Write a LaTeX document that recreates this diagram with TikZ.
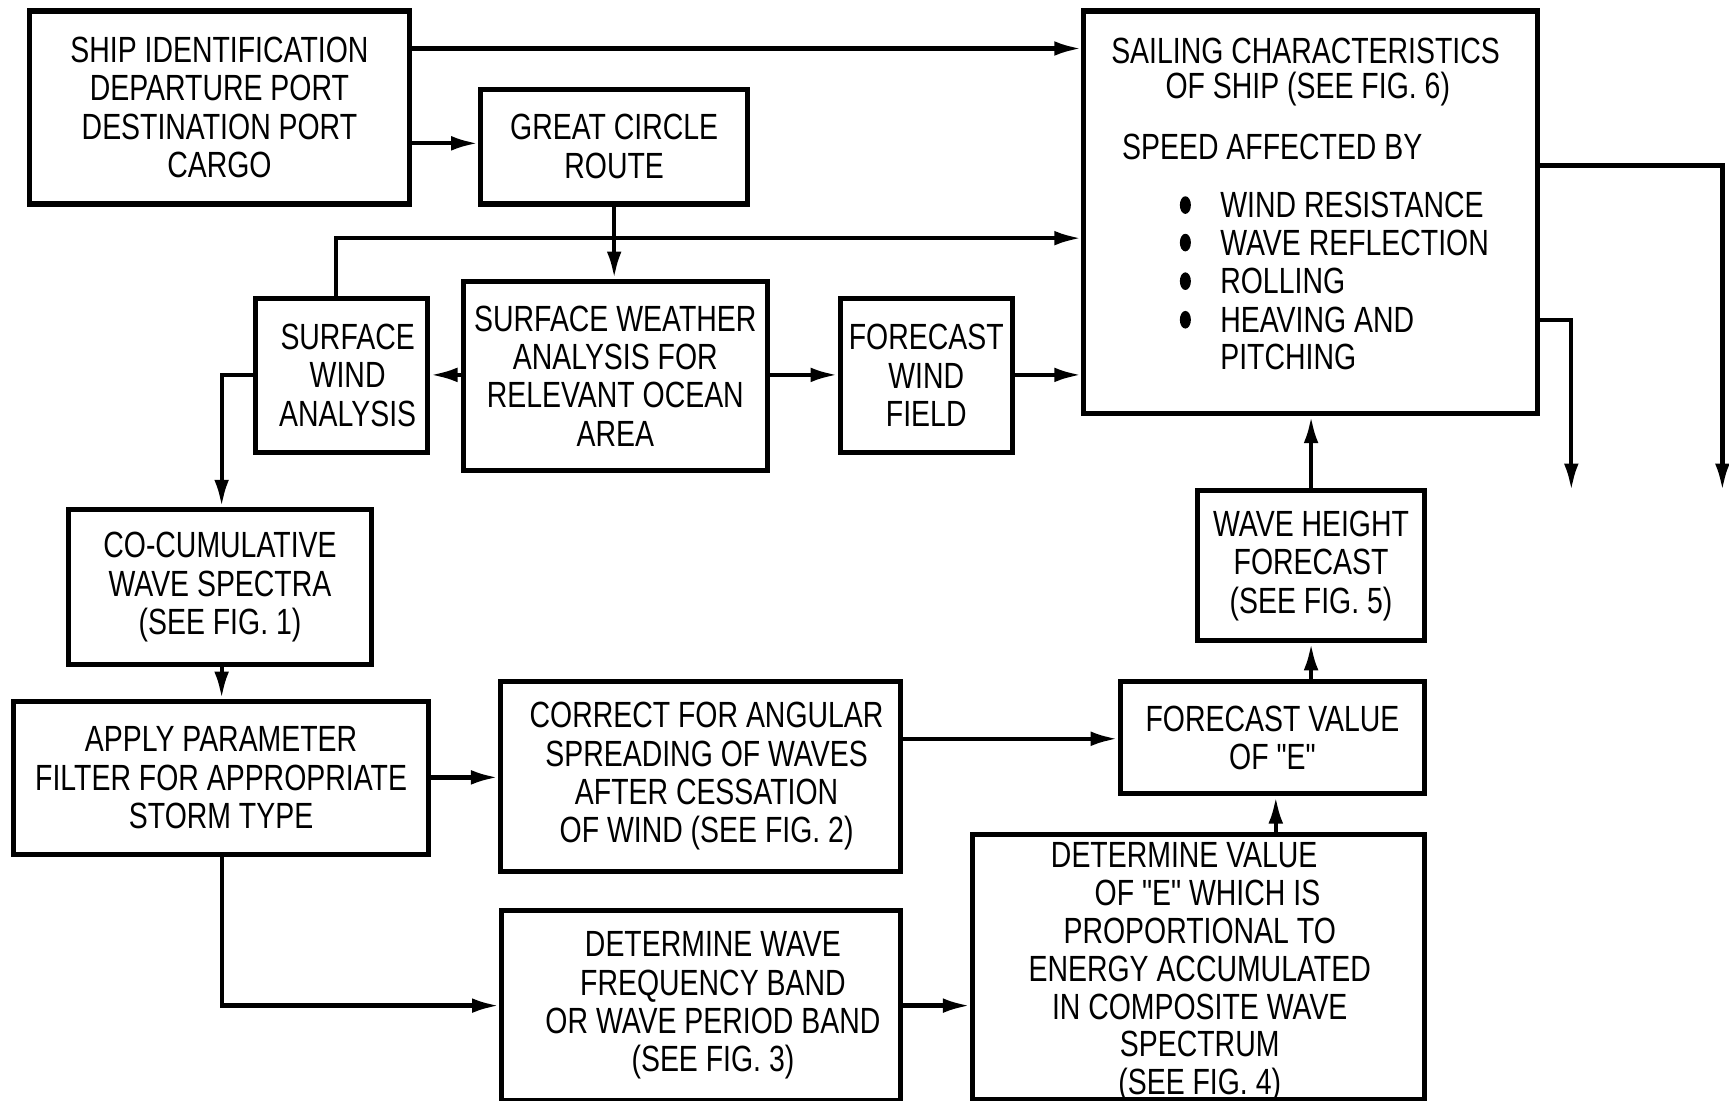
\documentclass[tikz,border=0pt]{standalone}
\usepackage{fontspec}
\setmainfont{Liberation Sans}[FakeStretch=0.78,Ligatures=TeXOff]
\usetikzlibrary{arrows.meta,calc}
\begin{document}
\begin{tikzpicture}[x=0.01cm,y=-0.01cm,
  box/.style={draw,line width=1.3pt,align=center,inner sep=0pt,font=\fontsize{9.4}{9.9}\selectfont},
  lbl/.style={inner sep=0pt,align=center,font=\fontsize{9.4}{9.9}\selectfont},
  conn/.style={line width=1.1pt},
  arr/.style={conn,-{Latex[length=7pt,width=3.8pt]}}]
\useasboundingbox[fill=white] (0,0) rectangle (1568,998);
% boxes
\node[box,minimum width=344*0.01cm,minimum height=175*0.01cm] (ship) at (199,97.5)
  {SHIP IDENTIFICATION\\DEPARTURE PORT\\DESTINATION PORT\\CARGO};
\node[box,minimum width=242*0.01cm,minimum height=104*0.01cm] (gcr) at (557,133)
  {GREAT CIRCLE\\ROUTE};
\node[box,minimum width=411*0.01cm,minimum height=365*0.01cm] (sail) at (1188.5,192.5) {};
\node[box,minimum width=156*0.01cm,minimum height=139*0.01cm] (swa) at (310,340.5)
  {\hspace*{3pt}SURFACE\\\hspace*{3pt}WIND\\\hspace*{3pt}ANALYSIS};
\node[box,minimum width=276*0.01cm,minimum height=172*0.01cm] (swe) at (558,341)
  {SURFACE WEATHER\\ANALYSIS FOR\\RELEVANT OCEAN\\AREA};
\node[box,minimum width=156*0.01cm,minimum height=139*0.01cm] (fwf) at (840,340.5)
  {FORECAST\\WIND\\FIELD};
\node[box,minimum width=275*0.01cm,minimum height=141*0.01cm] (cocum) at (199.5,532.5)
  {CO-CUMULATIVE\\WAVE SPECTRA\\(SEE FIG. 1)};
\node[box,minimum width=377*0.01cm,minimum height=139*0.01cm] (apply) at (200.5,705.5)
  {APPLY PARAMETER\\FILTER FOR APPROPRIATE\\STORM TYPE};
\node[box,minimum width=363*0.01cm,minimum height=172*0.01cm] (correct) at (635.5,704)
  {\hspace*{3pt}CORRECT FOR ANGULAR\\\hspace*{3pt}SPREADING OF WAVES\\\hspace*{3pt}AFTER CESSATION\\\hspace*{3pt}OF WIND (SEE FIG. 2)};
\node[box,minimum width=362*0.01cm,minimum height=172*0.01cm] (detwave) at (636,912)
  {\hspace*{6pt}DETERMINE WAVE\\\hspace*{6pt}FREQUENCY BAND\\\hspace*{6pt}OR WAVE PERIOD BAND\\\hspace*{6pt}(SEE FIG. 3)};
\node[box,minimum width=206*0.01cm,minimum height=136*0.01cm] (wh) at (1189,513)
  {WAVE HEIGHT\\FORECAST\\(SEE FIG. 5)};
\node[box,minimum width=276*0.01cm,minimum height=102*0.01cm] (fv) at (1154,669)
  {FORECAST VALUE\\OF "E"};
\node[box,minimum width=410*0.01cm,minimum height=240*0.01cm] (detval) at (1087,877) {};
\node[lbl,font=\fontsize{9.4}{9.75}\selectfont] (detvaltext) at (1088,882)
  {DETERMINE VALUE\hspace*{8pt}\\\hspace*{4pt}OF "E" WHICH IS\\PROPORTIONAL TO\\ENERGY ACCUMULATED\\IN COMPOSITE WAVE\\SPECTRUM\\(SEE FIG. 4)};
% sailing box text
\node[lbl] (s1) at (1184,46) {SAILING CHARACTERISTICS};
\node[lbl] (s2) at (1186,81) {OF SHIP (SEE FIG. 6)};
\node[lbl,anchor=west] (s3) at (1017,133) {SPEED AFFECTED BY};
\node[lbl,anchor=west] (b1) at (1106,186) {WIND RESISTANCE};
\node[lbl,anchor=west] (b2) at (1106,220) {WAVE REFLECTION};
\node[lbl,anchor=west] (b3) at (1106,255) {ROLLING};
\node[lbl,anchor=west] (b4) at (1106,290) {HEAVING AND};
\node[lbl,anchor=west] (b5) at (1106,324) {PITCHING};
\foreach \yy in {186,220,255,290}{\fill (1075,\yy) ellipse [x radius=5, y radius=8];}
% helper coordinates
\coordinate (yA) at (0,44);
\coordinate (yB) at (0,130);
\coordinate (yC) at (0,216);
\coordinate (yD) at (0,340);
\coordinate (yE) at (0,705);
\coordinate (yF) at (0,912);
\coordinate (yG) at (0,670);
\coordinate (yH) at (0,150);
\coordinate (yI) at (0,290);
\coordinate (x305) at (305,0);
\coordinate (x201) at (201,0);
\coordinate (x1157) at (1157,0);
\coordinate (x1189) at (1189,0);
\coordinate (end1) at (1562,445);
\coordinate (end2) at (1425,445);
% connectors
\draw[arr] (ship.east |- yA) -- (sail.west |- yA);
\draw[arr] (ship.east |- yB) -- (gcr.west |- yB);
\draw[arr] (gcr.south) -- (gcr.south |- swe.north);
\draw[arr] (x305 |- swa.north) -- (x305 |- yC) -- (sail.west |- yC);
\draw[arr] (swe.west |- yD) -- (swa.east |- yD);
\draw[arr] (swe.east |- yD) -- (fwf.west |- yD);
\draw[arr] (fwf.east |- yD) -- (sail.west |- yD);
\draw[arr] (swa.west |- yD) -- (x201 |- yD) -- (x201 |- cocum.north);
\draw[arr] (x201 |- cocum.south) -- (x201 |- apply.north);
\draw[arr] (apply.east |- yE) -- (correct.west |- yE);
\draw[arr] (x201 |- apply.south) -- (x201 |- yF) -- (detwave.west |- yF);
\draw[arr] (correct.east |- yG) -- (fv.west |- yG);
\draw[arr] (detwave.east |- yF) -- (detval.west |- yF);
\draw[arr] (x1157 |- detval.north) -- (x1157 |- fv.south);
\draw[arr] (x1189 |- fv.north) -- (x1189 |- wh.south);
\draw[arr] (x1189 |- wh.north) -- (x1189 |- sail.south);
\draw[arr] (sail.east |- yH) -- (end1 |- yH) -- (end1);
\draw[arr] (sail.east |- yI) -- (end2 |- yI) -- (end2);
\end{tikzpicture}
\end{document}
